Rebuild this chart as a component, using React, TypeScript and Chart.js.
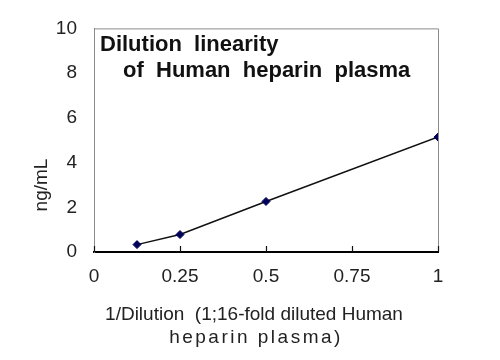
import React, { useEffect, useRef } from "react";
import { Chart, registerables } from "chart.js";

Chart.register(...registerables);

const xValues = [0.125, 0.25, 0.5, 1];
const yValues = [0.33, 0.78, 2.26, 5.14];
const xTickValues = [0, 0.25, 0.5, 0.75, 1];
const yTickValues = [0, 2, 4, 6, 8, 10];
const titleLines = ["Dilution  linearity", "of  Human  heparin  plasma"];
const xTitleLines = ["1/Dilution  (1;16-fold diluted Human", "heparin plasma)"];
const yTitle = "ng/mL";

const FONT = "'Liberation Sans', Arial, sans-serif";

const framePlugin = {
  id: "frame",
  afterDraw(chart: any) {
    const { ctx, chartArea } = chart;
    const { left, right, top, bottom } = chartArea;
    const xs = chart.scales.x;
    ctx.save();
    // top & right gray frame
    ctx.strokeStyle = "#8a8a8a";
    ctx.lineWidth = 1;
    ctx.beginPath();
    ctx.moveTo(left, top + 0.5);
    ctx.lineTo(right + 0.5, top + 0.5);
    ctx.lineTo(right + 0.5, bottom);
    ctx.stroke();
    // inner tick marks on x axis
    ctx.strokeStyle = "#111";
    ctx.lineWidth = 1.2;
    ctx.beginPath();
    xTickValues.forEach((v) => {
      const px = Math.round(xs.getPixelForValue(v)) + 0.5;
      ctx.moveTo(px, bottom);
      ctx.lineTo(px, bottom - 6);
    });
    ctx.stroke();
    // inner title
    ctx.fillStyle = "#111";
    ctx.font = `bold 22px ${FONT}`;
    ctx.textBaseline = "middle";
    ctx.textAlign = "left";
    ctx.fillText(titleLines[0], left + 6, top + 17);
    ctx.fillText(titleLines[1], left + 29, top + 43);
    // axis titles
    ctx.fillStyle = "#222";
    ctx.font = `19px ${FONT}`;
    ctx.textAlign = "center";
    ctx.fillText(xTitleLines[0], 254, 315);
    (ctx as any).letterSpacing = "2.5px";
    ctx.fillText(xTitleLines[1], 256, 338);
    (ctx as any).letterSpacing = "0px";
    ctx.translate(42, 185);
    ctx.rotate(-Math.PI / 2);
    ctx.fillText(yTitle, 0, 0);
    ctx.restore();
  },
};

export default function App() {
  const ref = useRef<HTMLCanvasElement>(null);
  useEffect(() => {
    if (!ref.current) return;
    const chart = new Chart(ref.current, {
      type: "line",
      data: {
        datasets: [
          {
            data: xValues.map((x, i) => ({ x, y: yValues[i] })),
            borderColor: "#111",
            borderWidth: 1.5,
            pointStyle: "rectRot",
            pointRadius: 4,
            pointBackgroundColor: "#00005a",
            pointBorderColor: "#00005a",
            pointBorderWidth: 1,
            tension: 0,
          },
        ],
      },
      options: {
        responsive: false,
        animation: false,
        layout: { padding: { top: 25, right: 62, left: 0, bottom: 0 } },
        plugins: { legend: { display: false }, tooltip: { enabled: false } },
        scales: {
          x: {
            type: "linear",
            min: 0,
            max: 1,
            afterBuildTicks: (s: any) => {
              s.ticks = xTickValues.map((v) => ({ value: v }));
            },
            afterFit: (s: any) => {
              s.height = 108;
            },
            grid: { display: false, drawTicks: false },
            border: { display: true, color: "#000", width: 2 },
            ticks: {
              padding: 13,
              color: "#222",
              font: { family: FONT, size: 19 },
              maxRotation: 0,
              callback: (v: any) => String(v),
            },
          },
          y: {
            type: "linear",
            min: 0,
            max: 10,
            afterBuildTicks: (s: any) => {
              s.ticks = yTickValues.map((v) => ({ value: v }));
            },
            afterFit: (s: any) => {
              s.width = 94;
            },
            grid: { display: false, drawTicks: false },
            border: { display: true, color: "#8a8a8a", width: 1 },
            ticks: {
              padding: 17,
              color: "#222",
              font: { family: FONT, size: 19 },
              callback: (v: any) => String(v),
            },
          },
        },
      },
      plugins: [framePlugin],
    });
    return () => chart.destroy();
  }, []);
  return (
    <div style={{ position: "absolute", left: 0, top: 0, width: 500, height: 360, background: "#fff" }}>
      <canvas ref={ref} width={500} height={360} />
    </div>
  );
}
